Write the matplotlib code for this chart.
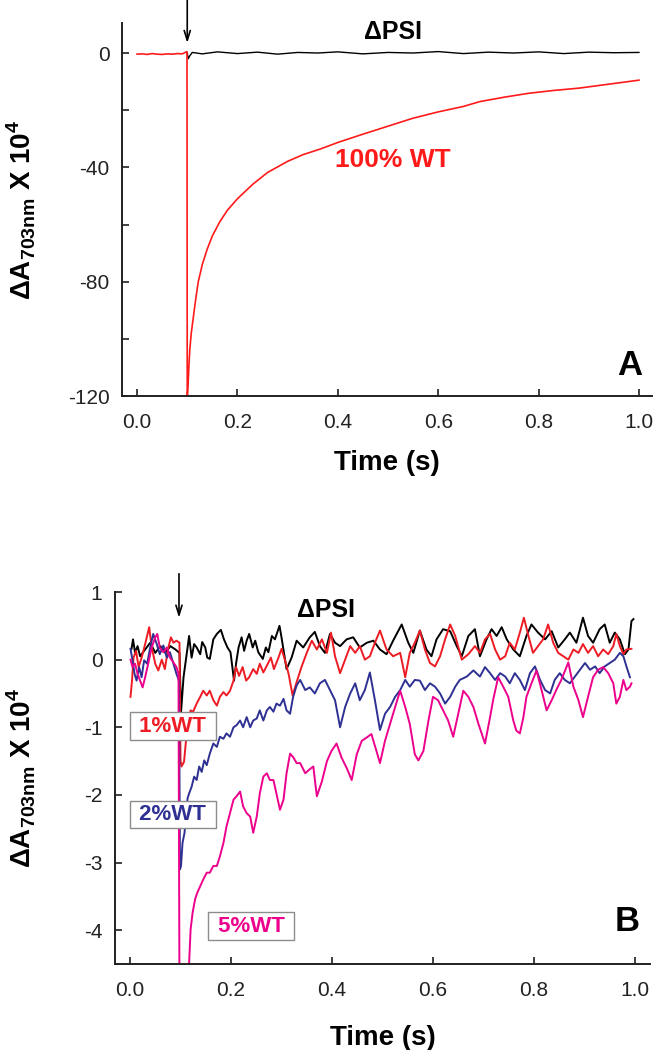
import matplotlib
matplotlib.use("Agg")
import matplotlib.pyplot as plt
from matplotlib.ticker import FixedLocator, FormatStrFormatter

plt.rcParams['font.family'] = ['Liberation Sans', 'DejaVu Sans']
plt.rcParams['axes.unicode_minus'] = False
plt.rcParams['mathtext.fontset'] = 'custom'
plt.rcParams['mathtext.rm'] = 'Liberation Sans'
plt.rcParams['mathtext.bf'] = 'Liberation Sans:bold'

# ---------------- panel A : 100% WT vs dPSI ----------------
a_black_t = [0.100, 0.102, 0.105, 0.110, 0.130, 0.160, 0.200, 0.240, 0.280, 0.320, 0.360,
             0.400, 0.450, 0.500, 0.550, 0.600, 0.650, 0.700, 0.750, 0.800, 0.850, 0.900,
             0.950, 1.000]
a_black_v = [0.0, -2.0, -1.0, 0.2, -0.3, 0.4, -0.2, 0.3, -0.4, 0.2, 0.0,
             0.4, -0.3, 0.2, 0.0, 0.5, -0.2, 0.3, 0.0, 0.4, -0.2, 0.3, 0.1, 0.2]

a_red_t = [0.000, 0.010, 0.020, 0.030, 0.040, 0.050, 0.060, 0.070, 0.080, 0.090, 0.0995,
           0.1000, 0.1010, 0.1020, 0.1035, 0.1050, 0.1080, 0.1120, 0.1170, 0.1220, 0.1300,
           0.1390, 0.150, 0.165, 0.180, 0.200, 0.230, 0.260, 0.300, 0.330, 0.365, 0.400,
           0.450, 0.500, 0.550, 0.600, 0.650, 0.683, 0.730, 0.780, 0.830, 0.880, 0.940, 1.000]
a_red_v = [-0.4, -0.3, -0.5, -0.2, -0.4, -0.5, -0.3, -0.4, -0.2, -0.3, 0.5,
           -121.0, -118.0, -114.5, -109.0, -104.0, -98.0, -92.6, -86.0, -80.0, -74.0,
           -69.0, -64.0, -59.0, -55.0, -51.0, -46.0, -41.8, -37.9, -35.6, -33.6, -31.3,
           -28.4, -25.6, -22.8, -20.6, -18.7, -17.0, -15.5, -14.1, -13.1, -12.3, -10.9, -9.5]

# ---------------- panel B : low WT fractions ----------------
b_black_t = [0.003, 0.006, 0.010, 0.015, 0.020, 0.030, 0.040, 0.050, 0.060, 0.070, 0.080,
             0.090, 0.098, 0.101, 0.106, 0.114, 0.117, 0.122, 0.127, 0.132, 0.139, 0.143,
             0.149, 0.153, 0.158, 0.165, 0.172, 0.180, 0.186, 0.193, 0.199, 0.206, 0.210,
             0.215, 0.221, 0.226, 0.231, 0.236, 0.243, 0.248, 0.254, 0.263, 0.269, 0.274,
             0.281, 0.287, 0.296, 0.300, 0.310, 0.320, 0.330, 0.343, 0.356, 0.366, 0.376,
             0.386, 0.396, 0.406, 0.416, 0.429, 0.442, 0.455, 0.469, 0.482, 0.495, 0.508,
             0.521, 0.538, 0.551, 0.561, 0.574, 0.587, 0.597, 0.607, 0.620, 0.634, 0.647,
             0.657, 0.670, 0.683, 0.693, 0.706, 0.716, 0.726, 0.736, 0.746, 0.759, 0.772,
             0.785, 0.795, 0.808, 0.822, 0.835, 0.848, 0.861, 0.871, 0.884, 0.897, 0.907,
             0.917, 0.930, 0.940, 0.950, 0.960, 0.970, 0.980, 0.987, 0.993, 0.997]
b_black_v = [0.16, 0.30, 0.10, 0.20, 0.05, 0.15, 0.25, 0.10, 0.20, 0.10, 0.20,
             0.15, 0.10, -0.78, -0.26, 0.18, 0.35, 0.03, 0.23, 0.18, 0.08, 0.26,
             0.18, 0.03, 0.01, 0.30, 0.38, 0.44, 0.30, 0.18, 0.11, -0.31, -0.06,
             0.18, 0.33, 0.13, 0.28, 0.38, 0.18, 0.28, 0.11, 0.01, 0.18, 0.11,
             0.35, 0.30, 0.50, 0.33, -0.14, 0.03, 0.28, 0.18, 0.33, 0.41, 0.20,
             0.10, 0.38, 0.25, 0.20, 0.30, 0.33, 0.18, 0.25, 0.28, 0.15, 0.08,
             0.28, 0.52, 0.25, 0.10, 0.43, 0.15, 0.05, 0.30, 0.45, 0.42, 0.20,
             0.05, 0.35, 0.45, 0.05, 0.30, 0.45, 0.35, 0.48, 0.30, 0.15, 0.05,
             0.35, 0.52, 0.40, 0.30, 0.42, 0.18, 0.30, 0.40, 0.25, 0.62, 0.35,
             0.25, 0.45, 0.52, 0.25, 0.40, 0.30, 0.08, 0.15, 0.57, 0.60]

b_red_t = [0.001, 0.004, 0.007, 0.012, 0.017, 0.023, 0.030, 0.038, 0.043, 0.050, 0.056,
           0.063, 0.069, 0.076, 0.081, 0.086, 0.092, 0.098, 0.100, 0.102, 0.107, 0.111,
           0.116, 0.120, 0.125, 0.132, 0.139, 0.145, 0.152, 0.158, 0.165, 0.172, 0.178,
           0.185, 0.191, 0.198, 0.205, 0.210, 0.216, 0.223, 0.230, 0.236, 0.244, 0.251,
           0.257, 0.264, 0.271, 0.279, 0.285, 0.294, 0.300, 0.307, 0.314, 0.322, 0.330,
           0.340, 0.350, 0.360, 0.370, 0.380, 0.390, 0.398, 0.406, 0.416, 0.426, 0.436,
           0.446, 0.455, 0.465, 0.475, 0.485, 0.495, 0.508, 0.521, 0.535, 0.545, 0.554,
           0.564, 0.574, 0.584, 0.594, 0.604, 0.614, 0.624, 0.634, 0.644, 0.657, 0.670,
           0.683, 0.693, 0.703, 0.713, 0.723, 0.733, 0.743, 0.752, 0.762, 0.772, 0.780,
           0.789, 0.798, 0.808, 0.818, 0.828, 0.838, 0.848, 0.858, 0.868, 0.878, 0.888,
           0.897, 0.907, 0.917, 0.927, 0.937, 0.947, 0.957, 0.963, 0.970, 0.977, 0.983,
           0.993]
b_red_v = [-0.55, -0.31, 0.03, 0.13, -0.11, 0.03, 0.23, 0.48, 0.18, -0.06, -0.16,
           0.00, -0.14, 0.18, 0.33, 0.25, 0.28, 0.25, -1.49, -1.58, -1.51, -1.19,
           -0.95, -0.75, -0.77, -0.65, -0.55, -0.46, -0.53, -0.46, -0.60, -0.68, -0.55,
           -0.48, -0.53, -0.46, -0.31, -0.11, -0.24, -0.11, -0.31, -0.26, -0.14, -0.21,
           -0.06, -0.19, -0.09, 0.03, -0.14, 0.03, 0.16, -0.01, -0.21, -0.53, -0.33,
           -0.10, 0.10, 0.28, 0.15, 0.30, 0.10, 0.40, 0.05, -0.20, 0.00, 0.20,
           0.10, 0.20, 0.00, 0.05, 0.25, 0.43, 0.15, 0.05, 0.10, -0.26, 0.10,
           0.25, 0.43, 0.15, -0.05, -0.10, 0.05, 0.30, 0.52, 0.35, 0.00, 0.08,
           0.20, 0.10, 0.30, 0.38, 0.15, 0.00, 0.05, 0.25, 0.15, 0.40, 0.62,
           0.35, 0.10, 0.20, 0.30, 0.52, 0.25, 0.10, 0.05, 0.00, 0.15, 0.10,
           0.23, 0.10, 0.20, 0.05, 0.15, 0.08, 0.20, 0.38, 0.20, 0.08, 0.15,
           0.16]

b_blue_t = [0.001, 0.005, 0.009, 0.013, 0.018, 0.023, 0.028, 0.034, 0.040, 0.046, 0.053,
            0.059, 0.066, 0.073, 0.079, 0.086, 0.092, 0.097, 0.099, 0.101, 0.104, 0.108,
            0.111, 0.114, 0.117, 0.122, 0.127, 0.132, 0.137, 0.142, 0.147, 0.152, 0.158,
            0.165, 0.172, 0.178, 0.185, 0.191, 0.198, 0.205, 0.211, 0.218, 0.224, 0.231,
            0.238, 0.244, 0.251, 0.257, 0.264, 0.271, 0.277, 0.284, 0.290, 0.297, 0.304,
            0.310, 0.317, 0.323, 0.330, 0.337, 0.347, 0.356, 0.366, 0.376, 0.386, 0.396,
            0.406, 0.416, 0.426, 0.436, 0.446, 0.455, 0.465, 0.475, 0.485, 0.495, 0.505,
            0.515, 0.525, 0.535, 0.545, 0.554, 0.564, 0.574, 0.584, 0.594, 0.604, 0.614,
            0.624, 0.634, 0.644, 0.653, 0.667, 0.680, 0.693, 0.703, 0.713, 0.723, 0.733,
            0.743, 0.752, 0.762, 0.772, 0.782, 0.792, 0.802, 0.812, 0.822, 0.832, 0.841,
            0.851, 0.861, 0.871, 0.881, 0.891, 0.901, 0.911, 0.921, 0.930, 0.940, 0.950,
            0.960, 0.970, 0.977, 0.983, 0.990]
b_blue_v = [0.16, -0.01, -0.21, -0.31, -0.11, -0.26, -0.01, -0.06, 0.18, 0.38, 0.23,
            0.08, 0.21, 0.03, 0.11, -0.06, -0.21, -0.31, -3.10, -3.05, -2.71, -2.56,
            -2.27, -2.05, -1.98, -1.88, -1.73, -1.78, -1.58, -1.66, -1.49, -1.56, -1.39,
            -1.24, -1.29, -1.14, -1.17, -1.09, -1.14, -1.00, -0.97, -0.90, -1.00, -0.85,
            -1.00, -0.90, -0.87, -0.75, -0.90, -0.75, -0.70, -0.77, -0.65, -0.68, -0.58,
            -0.75, -0.80, -0.55, -0.38, -0.30, -0.45, -0.41, -0.50, -0.35, -0.30, -0.45,
            -0.60, -1.00, -0.70, -0.50, -0.35, -0.60, -0.45, -0.19, -0.60, -1.04, -0.80,
            -0.70, -0.55, -0.45, -0.30, -0.40, -0.30, -0.31, -0.45, -0.35, -0.40, -0.50,
            -0.65, -0.55, -0.40, -0.30, -0.25, -0.16, -0.25, -0.11, -0.20, -0.30, -0.20,
            -0.25, -0.35, -0.20, -0.30, -0.45, -0.20, -0.10, -0.30, -0.45, -0.50, -0.30,
            -0.20, -0.30, -0.35, -0.25, -0.15, -0.05, -0.15, -0.10, -0.20, -0.10, -0.05,
            0.00, 0.10, 0.05, -0.10, -0.26]

b_pink_t = [0.001, 0.005, 0.010, 0.015, 0.020, 0.025, 0.030, 0.036, 0.043, 0.050, 0.054,
            0.059, 0.066, 0.073, 0.079, 0.086, 0.092, 0.096, 0.098, 0.116, 0.117, 0.120,
            0.124, 0.129, 0.133, 0.139, 0.145, 0.152, 0.158, 0.165, 0.172, 0.178, 0.185,
            0.191, 0.198, 0.205, 0.211, 0.218, 0.224, 0.231, 0.238, 0.244, 0.251, 0.257,
            0.264, 0.271, 0.277, 0.284, 0.290, 0.297, 0.304, 0.310, 0.317, 0.323, 0.330,
            0.337, 0.347, 0.356, 0.363, 0.370, 0.380, 0.390, 0.399, 0.409, 0.419, 0.429,
            0.439, 0.449, 0.459, 0.469, 0.478, 0.488, 0.495, 0.505, 0.515, 0.525, 0.535,
            0.545, 0.554, 0.564, 0.571, 0.581, 0.591, 0.600, 0.610, 0.620, 0.630, 0.640,
            0.650, 0.660, 0.670, 0.680, 0.690, 0.703, 0.713, 0.719, 0.729, 0.739, 0.749,
            0.759, 0.765, 0.772, 0.779, 0.785, 0.795, 0.805, 0.815, 0.825, 0.835, 0.844,
            0.854, 0.868, 0.878, 0.888, 0.897, 0.907, 0.917, 0.927, 0.937, 0.947, 0.957,
            0.963, 0.970, 0.977, 0.983, 0.990, 0.993]
b_pink_v = [0.00, -0.11, -0.06, -0.21, -0.31, -0.41, -0.26, -0.06, 0.18, 0.33, 0.38,
            0.18, 0.11, 0.18, 0.03, -0.04, -0.11, -0.21, -5.00, -5.00, -4.50, -3.99,
            -3.74, -3.54, -3.45, -3.35, -3.25, -3.15, -3.15, -3.05, -3.05, -2.91, -2.71,
            -2.47, -2.27, -2.07, -2.02, -1.95, -2.17, -2.27, -2.32, -2.56, -2.32, -1.98,
            -1.73, -1.68, -1.78, -1.78, -1.98, -2.22, -2.07, -1.68, -1.39, -1.44, -1.53,
            -1.53, -1.68, -1.62, -1.58, -2.02, -1.80, -1.50, -1.35, -1.24, -1.45, -1.60,
            -1.78, -1.40, -1.20, -1.15, -1.10, -1.35, -1.53, -1.20, -0.95, -0.70, -0.46,
            -0.70, -0.95, -1.40, -1.49, -1.35, -0.90, -0.55, -0.60, -0.75, -0.90, -1.14,
            -0.80, -0.46, -0.55, -0.70, -0.95, -1.24, -0.85, -0.60, -0.26, -0.40, -0.55,
            -0.90, -1.05, -1.09, -0.85, -0.55, -0.35, -0.16, -0.45, -0.75, -0.60, -0.45,
            -0.30, -0.04, -0.40, -0.60, -0.85, -0.55, -0.26, -0.15, -0.11, -0.20, -0.35,
            -0.65, -0.55, -0.30, -0.45, -0.40, -0.35]

RED = '#ed1c24'
BLUE = '#2e3192'
PINK = '#ec008c'
AXC = '#231f20'

fig = plt.figure(figsize=(6.56, 10.5), dpi=100)
axA = fig.add_axes([122/656, 1 - 396/1050, 530/656, 373/1050])
axB = fig.add_axes([115/656, 1 - 964/1050, 535/656, 372/1050])

ylab = r'ΔA$_{\mathbf{703nm}}$ X 10$^{\mathbf{4}}$'

def style(ax):
    for s in ['top', 'right']:
        ax.spines[s].set_visible(False)
    for s in ['left', 'bottom']:
        ax.spines[s].set_linewidth(1.4)
        ax.spines[s].set_color(AXC)
    ax.tick_params(which='both', direction='in', length=5, width=1.2, color=AXC,
                   labelsize=15, labelcolor='#222222')
    ax.tick_params(axis='x', pad=12)
    ax.tick_params(axis='y', pad=9)
    ax.xaxis.set_major_locator(FixedLocator([0.0, 0.2, 0.4, 0.6, 0.8, 1.0]))
    ax.xaxis.set_major_formatter(FormatStrFormatter('%.1f'))
    ax.set_xlabel('Time (s)', fontsize=20, fontweight='bold')
    ax.set_ylabel(ylab, fontsize=20, fontweight='bold')

# panel A
axA.plot(a_black_t, a_black_v, color='black', lw=1.0)
axA.plot(a_red_t, a_red_v, color='#ff1a1a', lw=1.2)
axA.set_xlim(-0.030, 1.026)
axA.set_ylim(-120, 10.5)
style(axA)
axA.yaxis.set_major_locator(FixedLocator([-120, -80, -40, 0]))
axA.yaxis.set_minor_locator(FixedLocator([-100, -60, -20]))
axA.yaxis.set_label_coords(-0.158, 0.5)
axA.xaxis.set_label_coords(0.5, -0.145)
axA.text(0.51, 7.3, 'ΔPSI', fontsize=18, fontweight='bold', ha='center', va='center')
axA.text(0.51, -37.5, '100% WT', fontsize=19, fontweight='bold', color='#ff1a1a',
         ha='center', va='center')
axA.text(0.982, -109.5, 'A', fontsize=25, fontweight='bold', ha='center', va='center')
axA.annotate('', xy=(0.1, 3.5), xytext=(0.1, 18.5), annotation_clip=False,
             arrowprops=dict(arrowstyle='->,head_length=0.7,head_width=0.22', lw=1.2,
                             color='black', shrinkA=0, shrinkB=0))

# panel B
axB.plot(b_black_t, b_black_v, color='black', lw=1.4)
axB.plot(b_red_t, b_red_v, color=RED, lw=1.4)
axB.plot(b_blue_t, b_blue_v, color=BLUE, lw=1.4)
axB.plot(b_pink_t, b_pink_v, color=PINK, lw=1.4)
axB.set_xlim(-0.0297, 1.0297)
axB.set_ylim(-4.5, 1.0)
style(axB)
axB.yaxis.set_major_locator(FixedLocator([-4, -3, -2, -1, 0, 1]))
axB.yaxis.set_major_formatter(FormatStrFormatter('%d'))
axB.yaxis.set_label_coords(-0.144, 0.5)
axB.xaxis.set_label_coords(0.5, -0.165)
axB.text(0.388, 0.735, 'ΔPSI', fontsize=18, fontweight='bold', ha='center', va='center')
box = dict(boxstyle='square,pad=0.15', fc='white', ec='#8c8c8c', lw=1.0)
axB.text(0.085, -0.985, ' 1%WT ', fontsize=16, fontweight='bold', color=RED,
         ha='center', va='center', bbox=box)
axB.text(0.085, -2.29, ' 2%WT ', fontsize=16, fontweight='bold', color=BLUE,
         ha='center', va='center', bbox=box)
axB.text(0.24, -3.94, ' 5%WT ', fontsize=16, fontweight='bold', color=PINK,
         ha='center', va='center', bbox=box)
axB.text(0.984, -3.87, 'B', fontsize=25, fontweight='bold', ha='center', va='center')
axB.annotate('', xy=(0.097, 0.62), xytext=(0.097, 1.27), annotation_clip=False,
             arrowprops=dict(arrowstyle='->,head_length=0.7,head_width=0.22', lw=1.2,
                             color='black', shrinkA=0, shrinkB=0))

fig.savefig('out.png', dpi=100)
